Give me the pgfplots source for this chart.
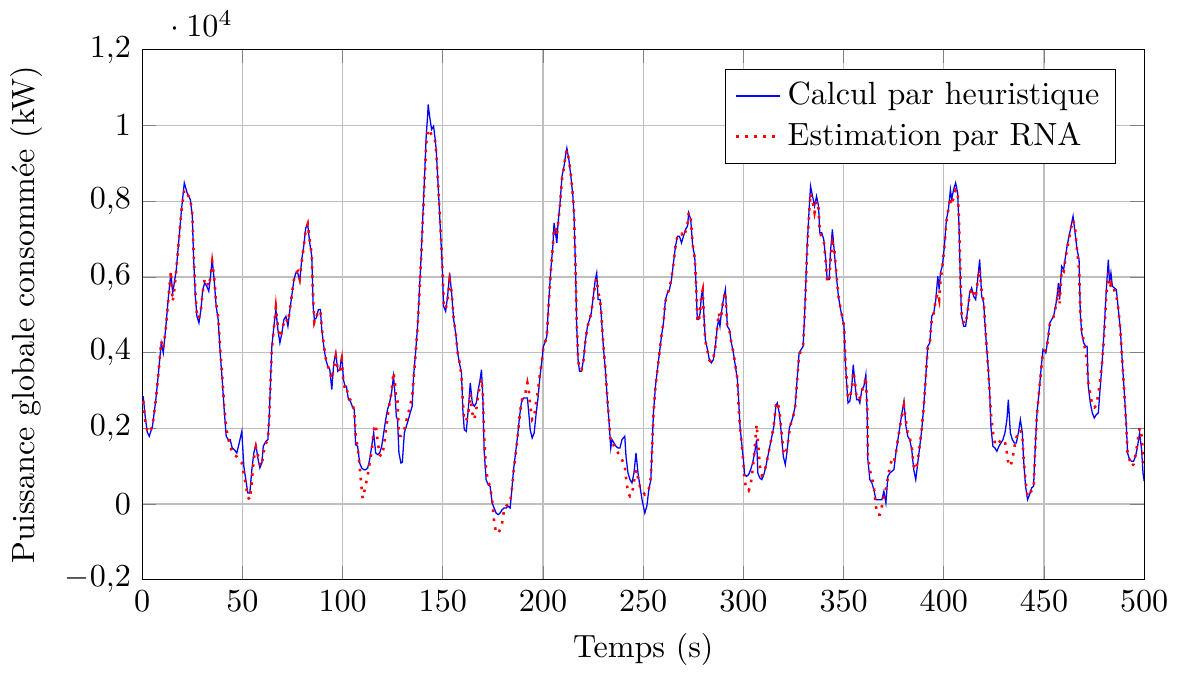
\documentclass[border=0pt]{standalone}
\usepackage{pgfplots}
\usepackage{pgfplotstable}
\pgfplotsset{compat=1.18}
\pgfplotstableread{
t h r
0.5 2846 2713
1.5 2300 2200
2.5 1900 1950
3.5 1788 1877
5.1 2050 2050
6.8 2757 2757
8.1 3462 3462
9.5 4255 4300
10.5 3990 4100
11.8 4696 4650
13.1 5488 5450
14.3 6105 6150
15.2 5577 5350
16 5841 5650
17 6193 6200
18.3 6986 6986
19.6 7779 7750
21 8484 8300
22.4 8220 8200
24.0 8043 8050
25 7603 7650
25.6 6546 6700
26.5 5488 5600
27.3 4960 5000
28.3 4784 4900
29.3 5136 5150
30.2 5665 5600
31.2 5841 5950
32.2 5753 5900
33.2 5620 5750
33.9 5929 5950
34.9 6458 6400
35.9 5929 6000
36.9 5224 5300
37.9 4872 4950
38.9 3991 4100
39.9 3286 3400
40.9 2493 2600
41.9 1788 2000
42.9 1700 1750
43.9 1700 1500
44.9 1480 1400
45.9 1436 1300
47.2 1348 1250
48.4 1612 1150
49.7 1920 1083
50.7 995 800
51.7 643 500
52.7 290 180
53.7 290 114
54.7 907 600
55.7 1348 1200
56.7 1568 1500
57.7 1216 1300
58.7 951 1050
59.7 1083 1000
60.4 1524 1350
61.7 1656 1600
62.7 1700 1700
63.4 2317 2300
64 3198 3200
64.7 4167 4100
65.7 4696 4650
66.7 5136 5200
67.7 4608 4700
68.7 4255 4400
69.7 4520 4550
70.7 4872 4800
71.7 4960 4900
72.7 4696 4800
73.7 5136 5150
74.6 5489 5500
75.6 5885 5900
76.6 6105 6100
77.6 6105 6150
78.6 5885 5950
79.6 6458 6400
80.6 6810 6800
81.6 7294 7250
82.6 7383 7400
83.6 6898 6950
84.6 6546 6600
85.3 5224 5400
85.9 4872 4800
86.9 4916 4950
87.9 5136 5100
88.9 5136 5100
89.6 4608 4650
90.6 4167 4200
91.6 3815 3850
92.6 3639 3650
93.6 3550 3500
94.6 3022 3300
95.6 3727 3600
96.6 3991 3900
97.6 3506 3550
98.6 3550 3500
99.6 3947 3800
100.4 3286 3200
101.2 3110 3050
101.9 3110 3100
102.9 2757 2800
103.9 2713 2750
104.8 2581 2600
105.8 2493 2500
106.5 1568 1800
107.5 1524 1500
108.5 1083 995
109.5 951 400
110 930 150
110.5 907 250
111.5 907 500
112.5 951 750
113.5 1172 1083
114.5 1524 1400
115.5 1877 1950
116.5 1348 2100
117.5 1304 1650
118.5 1348 1300
119.5 1524 1260
120.5 1877 1500
121.5 2229 1900
122.4 2493 2300
123.4 2669 2650
124.4 2934 2950
125.4 3374 3480
126.1 2934 3200
126.8 2317 2700
127.4 2229 2700
128.1 1348 1800
129.1 1083 1800
129.8 1100 1850
130.8 1877 1965
131.8 2053 2200
132.8 2229 2400
133.7 2405 2625
134.7 2581 2800
135.4 3374 3300
136.4 3991 3950
137.4 4696 4650
138.1 5400 5350
139.1 6458 6400
140.1 7691 7600
141.1 8925 8800
141.7 9717 9500
142.4 10246 9800
142.7 10554 9900
143.4 10246 9850
144.4 9894 9750
145.4 9981 9700
146 9717 9650
146.7 9365 9300
147.7 8396 8400
148.7 7339 7400
149.7 6281 6400
150.4 5224 5300
151.4 5092 5150
152.4 5489 5400
153.4 6105 5900
154.4 5577 5600
155.4 4872 4900
156.4 4520 4550
157.4 3991 4000
158.3 3727 3750
159.3 3462 3400
160 2493 2700
160.7 1965 2200
161.7 1920 2200
162.7 2493 2400
163.7 3198 2900
164.7 2669 2400
165.7 2581 2229
166.7 2669 2500
167.7 3022 2900
168.6 3286 3150
169.3 3550 3300
170 2757 2900
170.6 1436 1800
171.6 643 900
172.6 511 600
173.6 467 450
174.6 26 100
175.6 -106 -458
176.6 -238 -766
177.6 -282 -766
178.6 -238 -678
179.6 -150 -500
180.6 -106 -150
181.6 -106 -50
182.6 -62 -20
183.6 -106 50
184.3 290 300
185.3 907 850
186.3 1348 1300
187.3 1788 1750
188.3 2317 2300
189.2 2669 2700
190.2 2802 2850
191.2 2802 2934
192.2 2802 3198
192.9 2405 3000
193.6 1965 2600
194.6 1744 2229
195.6 1877 2300
196.6 2405 2700
197.5 2800 3000
198.5 3374 3450
199.5 3815 3800
200.2 4167 4150
200.9 4255 4250
201.9 4432 4450
202.9 5400 5350
203.9 6193 6150
204.9 6810 6800
205.5 7427 7300
206.2 7163 7300
206.9 6898 7100
207.5 7427 7400
208.5 7956 7900
209.5 8660 8600
210.5 8925 8900
211.2 9189 9200
211.9 9400 9350
212.9 9101 9100
213.9 8660 8700
214.9 8132 8150
215.5 7603 7650
216.2 6281 6300
216.8 4696 4800
217.5 3815 3850
218.2 3506 3550
219.2 3506 3550
220.2 3815 3800
221.2 4343 4350
222.2 4696 4700
223.2 4872 4850
224.1 5048 5050
225.1 5489 5450
226.1 5929 5850
226.8 6105 5950
227.5 5400 5600
228.5 5400 5400
229.1 4960 5000
230.1 4167 4200
231.1 3550 3600
232.1 2757 2800
233.1 2053 2100
233.8 1480 1650
234.4 1700 1550
235.4 1612 1550
236.4 1524 1450
237.4 1480 1350
238.4 1480 1300
239.4 1700 1172
240.8 1788 1000
241.4 1260 700
242.4 819 300
243.4 643 203
244.4 555 250
245.4 819 600
246.4 1348 900
247.4 819 700
248.4 467 450
249.4 114 350
250.1 -62 300
250.8 -238 250
251.8 -62 300
252.8 379 400
253.8 643 700
254.4 1436 1400
255.1 2405 2350
256.1 3110 3100
257.1 3550 3550
258.1 3991 4000
259.1 4432 4450
260.1 4784 4800
261.1 5400 5350
262.1 5577 5550
263.1 5665 5700
264.1 5929 5950
265.1 6370 6350
266.1 6810 6800
267.1 7075 7100
268.1 7075 7150
269.1 6898 7150
270.1 7075 7050
271.1 7251 7200
272.1 7339 7400
272.7 7691 7700
273.7 7515 7550
274.7 6810 6850
275.7 6546 6500
276.4 5753 5800
277.0 4872 4900
277.7 4872 4800
278.4 5048 5100
279 5489 5500
279.7 5665 5650
280.4 4872 4800
281 4343 4300
281.7 4167 4150
282.4 3991 3950
283 3815 3800
284 3727 3750
285 3815 3850
286 4167 4150
287 4696 4700
287.7 4872 5048
288.3 4696 4900
289 5048 5000
290 5400 5400
291 5665 5600
292 4696 4650
293 4608 4600
294 4255 4250
295 3991 4000
296 3639 3650
297 3286 3300
297.6 2757 2600
298.3 2053 2000
299.3 1524 1500
300 1172 1100
300.6 775 600
301.6 731 400
302.6 775 350
303.6 907 500
304.6 1083 900
305.6 1348 1450
306.6 1700 2097
307.2 819 1700
308.2 687 1000
309.2 643 750
310.2 775 800
311.2 995 1000
312.2 1260 1260
313.2 1524 1524
314.2 1788 1788
315.2 2053 2100
316.2 2581 2600
316.9 2669 2700
317.9 2405 2500
318.9 1877 2000
319.9 1260 1400
320.9 1039 1300
321.9 1436 1500
322.9 2009 1900
323.8 2141 2150
324.8 2317 2300
325.8 2581 2550
326.8 3286 3250
327.8 3991 3950
328.8 4079 4050
329.8 4167 4200
330.5 4960 4900
331.2 5929 5850
331.8 6810 6700
332.8 7779 7700
333.5 8396 8200
334.5 8132 8000
335.5 7867 7700
336.5 8132 8000
337.5 7867 7800
338.1 7163 7200
339.1 7163 7050
340.1 6986 6950
341.1 6458 6400
341.8 5929 5900
342.8 5929 5850
343.4 6634 6400
344.4 7251 6900
345.4 6634 6700
346.4 6017 6100
347.4 5489 5500
348.5 5136 5150
349.5 4872 4900
350.2 4696 4700
350.8 3815 3900
351.5 3198 3300
352.2 2669 2800
353.1 2713 2800
354.1 3110 3050
354.8 3683 3500
355.5 3286 3300
356.5 2757 2800
357.5 2757 2850
358.1 2669 2800
359.1 3022 3000
360.1 3110 3100
361.1 3418 3350
361.8 2317 2500
362.1 1172 1300
363.1 643 900
364.1 555 700
365.1 379 450
366.1 114 -62
367.1 114 -282
368.1 114 -282
369.1 114 -62
370.1 335 200
371.1 26 379
372.1 731 700
373.1 819 995
374.1 863 1172
375.1 907 1100
376.1 1348 1350
377.1 1700 1700
378.1 2053 2050
379.1 2405 2350
380.1 2713 2600
381.1 2053 2200
382 1788 1850
383 1700 1750
384 1436 1500
385 907 1000
386 643 900
387 1083 1150
388 1524 1550
389 1965 2000
390 2581 2600
391 3374 3350
392 4167 4150
393 4255 4250
394 4960 4900
395 5048 5050
396 5400 5400
397 6017 5577
397.7 5665 5400
398.3 6105 5900
399.3 6300 6250
400.3 6810 6800
401.3 7515 7450
402.3 7779 7800
403.3 8308 8100
403.9 8043 7900
404.9 8308 8100
405.9 8484 8300
406.9 8220 8250
407.6 7339 7500
408.3 5753 6000
408.9 4960 5000
409.9 4696 4800
410.9 4696 4750
411.9 5136 5100
412.9 5577 5550
413.9 5709 5700
414.9 5489 5550
415.9 5400 5450
416.9 5929 5900
417.9 6458 6200
418.9 5489 5600
419.9 5312 5350
420.6 4696 4750
421.6 3991 4000
422.2 3550 3500
422.9 2934 2900
423.5 2053 2400
424.5 1524 1900
425.5 1480 1600
426.5 1392 1550
427.5 1524 1612
428.5 1612 1700
429.5 1700 1650
430.5 1877 1650
431.5 2229 1350
432.2 2757 1083
433.2 1877 995
434.2 1700 1172
435.2 1612 1500
436.2 1612 1750
437.2 1877 1900
438.2 2229 1950
439.2 1877 1800
439.8 1172 1200
440.8 467 600
441.8 114 200
442.8 247 300
443.8 423 350
444.8 467 400
445.5 1348 1300
446.5 2405 2400
447.5 2934 2950
448.5 3550 3500
449.5 4079 4050
450.9 3991 4050
451.9 4343 4300
452.9 4784 4750
453.8 4872 4850
454.8 4960 4950
455.8 5224 5200
456.5 5489 5400
457.2 5841 5700
457.8 5400 5300
458.8 6281 6200
459.8 6193 6150
460.5 6458 6400
461.5 6810 6750
462.5 7075 7000
463.5 7339 7300
464.5 7603 7500
465.5 7163 7300
466.5 6722 6700
467.5 6458 6200
468.1 5048 5100
468.8 4520 4600
469.8 4255 4300
470.8 4167 4000
471.5 4167 3700
472.1 3110 3200
473.1 2669 2900
474.1 2405 2600
475.1 2273 2550
476.1 2361 2600
477.1 2405 2900
478.1 3110 3300
479.1 3815 3800
480.1 4696 4500
481.1 5665 5500
482.1 6458 6100
482.7 5841 5700
483.4 6105 5800
484.1 5753 5650
485.1 5709 5650
486.1 5665 5500
487.1 5136 5150
488.1 4608 4600
489.1 3727 3750
490.1 2934 2900
491.1 2053 2000
491.7 1348 1348
492.7 1172 1172
493.7 1128 995
494.7 1128 1050
495.7 1260 1300
496.7 1524 1650
497.7 1877 2009
498.7 1436 1800
499.4 819 1300
500 600 1000
}\datatable
\begin{document}
\begin{tikzpicture}
\begin{axis}[
  scale only axis,
  width=312pt, height=165pt,
  xmin=0, xmax=500, ymin=-2000, ymax=12000,
  xtick={0,50,...,500},
  ytick={-2000,0,2000,4000,6000,8000,10000,12000},
  grid=major,
  /pgf/number format/use comma,
  ytick scale label code/.code={${}\cdot 10^{#1}$},
  every y tick scale label/.style={at={(rel axis cs:0,1)}, anchor=south west, xshift=3pt, yshift=0.5pt},
  xlabel={Temps (s)},
  ylabel={Puissance globale consommée (kW)},
  legend image code/.code={\draw[mark repeat=2,mark phase=2,#1] plot coordinates {(0cm,0cm) (0.24cm,0cm) (0.48cm,0cm)};},
  legend style={at={(0.972,0.964)}, anchor=north east, cells={anchor=west}},
]
\addplot[blue, no markers] table[x=t, y=h] {\datatable};
\addlegendentry{Calcul par heuristique}
\addplot[red, dotted, thick, no markers] table[x=t, y=r] {\datatable};
\addlegendentry{Estimation par RNA}
\end{axis}
\end{tikzpicture}
\end{document}
